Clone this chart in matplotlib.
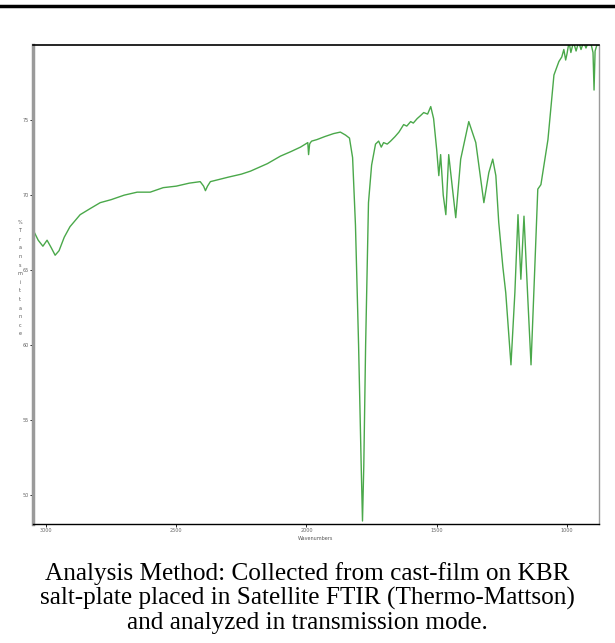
import matplotlib
matplotlib.use('Agg')
import matplotlib.pyplot as plt
from matplotlib.lines import Line2D

# FTIR spectrum
wavenumber = [3050, 3030, 3012, 2996, 2980, 2965, 2950, 2930, 2908, 2869, 2831, 2792, 2750, 2700,
              2650, 2600, 2550, 2500, 2450, 2408, 2395, 2388, 2380, 2369, 2300, 2250, 2215, 2150,
              2100, 2060, 2023, 1995, 1992, 1988, 1985, 1980, 1960, 1930, 1896, 1870, 1850, 1835,
              1823, 1812, 1800, 1790, 1785, 1780, 1773, 1762, 1750, 1735, 1723, 1713, 1704, 1690,
              1677, 1660, 1645, 1627, 1615, 1600, 1590, 1575, 1562, 1550, 1535, 1523, 1512, 1500,
              1492, 1485, 1475, 1465, 1454, 1440, 1427, 1408, 1377, 1350, 1319, 1300, 1285, 1273,
              1262, 1246, 1235, 1215, 1200, 1188, 1177, 1165, 1150, 1138, 1125, 1112, 1100, 1073,
              1050, 1031, 1020, 1012, 1005, 1000, 992, 985, 975, 965, 955, 946, 936, 927, 918, 908,
              900, 896, 892, 885, 877]
transmittance = [67.7, 67.0, 66.6, 67.0, 66.5, 66.0, 66.3, 67.2, 67.9, 68.7, 69.1, 69.5, 69.7, 70.0,
                 70.2, 70.2, 70.5, 70.6, 70.8, 70.9, 70.6, 70.3, 70.6, 70.9, 71.2, 71.4, 71.6, 72.1,
                 72.6, 72.9, 73.2, 73.5, 72.7, 73.4, 73.5, 73.6, 73.7, 73.9, 74.1, 74.2, 74.0, 73.8,
                 72.5, 68.0, 60.0, 52.0, 48.3, 52.0, 60.0, 69.5, 72.0, 73.4, 73.6, 73.2, 73.5, 73.4,
                 73.6, 73.9, 74.2, 74.7, 74.6, 74.9, 74.8, 75.1, 75.3, 75.5, 75.4, 75.9, 75.1, 73.0,
                 71.3, 72.7, 70.0, 68.7, 72.7, 70.5, 68.5, 72.4, 74.9, 73.5, 69.5, 71.5, 72.4, 71.3,
                 68.2, 65.2, 63.5, 58.7, 63.5, 68.7, 64.4, 68.6, 63.0, 58.7, 64.5, 70.4, 70.7, 73.7,
                 78.0, 78.9, 79.2, 79.7, 79.0, 79.4, 80.2, 79.5, 80.2, 79.6, 80.2, 79.7, 80.2, 79.8,
                 80.2, 80.1, 79.5, 77.0, 79.6, 80.0, 80.0]

xticks = [3000, 2500, 2000, 1500, 1000]
yticks = [50, 55, 60, 65, 70, 75]
caption = ('Analysis Method: Collected from cast-film on KBR\n'
           'salt-plate placed in Satellite FTIR (Thermo-Mattson)\n'
           'and analyzed in transmission mode.')


def main():
    fig = plt.figure(figsize=(6.15, 6.43), dpi=100)
    ax = fig.add_axes([33/615, 1-524/643, (599-33)/615, (524-45)/643])

    ax.plot(wavenumber, transmittance, color='#4aa84a', lw=1.0)
    ax.set_xlim(3050, 877)
    ax.set_ylim(48.1, 80)
    ax.set_xticks(xticks)
    ax.set_yticks(yticks)
    ax.tick_params(labelsize=3.5, labelcolor='#666666', length=2, width=0.6, pad=1)

    ax.spines['left'].set_color('#9a9a9a')
    ax.spines['left'].set_linewidth(2.5)
    ax.spines['right'].set_color('#9a9a9a')
    ax.spines['right'].set_linewidth(1.0)
    ax.spines['top'].set_linewidth(1.2)
    ax.spines['bottom'].set_linewidth(1.0)

    ax.set_xlabel('Wavenumbers', fontsize=3.5, color='#555555', labelpad=2)
    # stacked letters for the y label
    fig.text(20/615, 1-278/643, '%\nT\nr\na\nn\ns\nm\ni\nt\nt\na\nn\nc\ne',
             fontsize=3.5, color='#555555', ha='center', va='center', linespacing=1.9)

    # rule across the top
    fig.add_artist(Line2D([0, 1], [1-6/643, 1-6/643], color='black', lw=2.5))

    fig.text(0.5, 1-598/643, caption, fontsize=18.2, family='Liberation Serif',
             ha='center', va='center', linespacing=1.12)

    fig.savefig('out.png', dpi=100)
    print('ok')


if __name__ == '__main__':
    main()
